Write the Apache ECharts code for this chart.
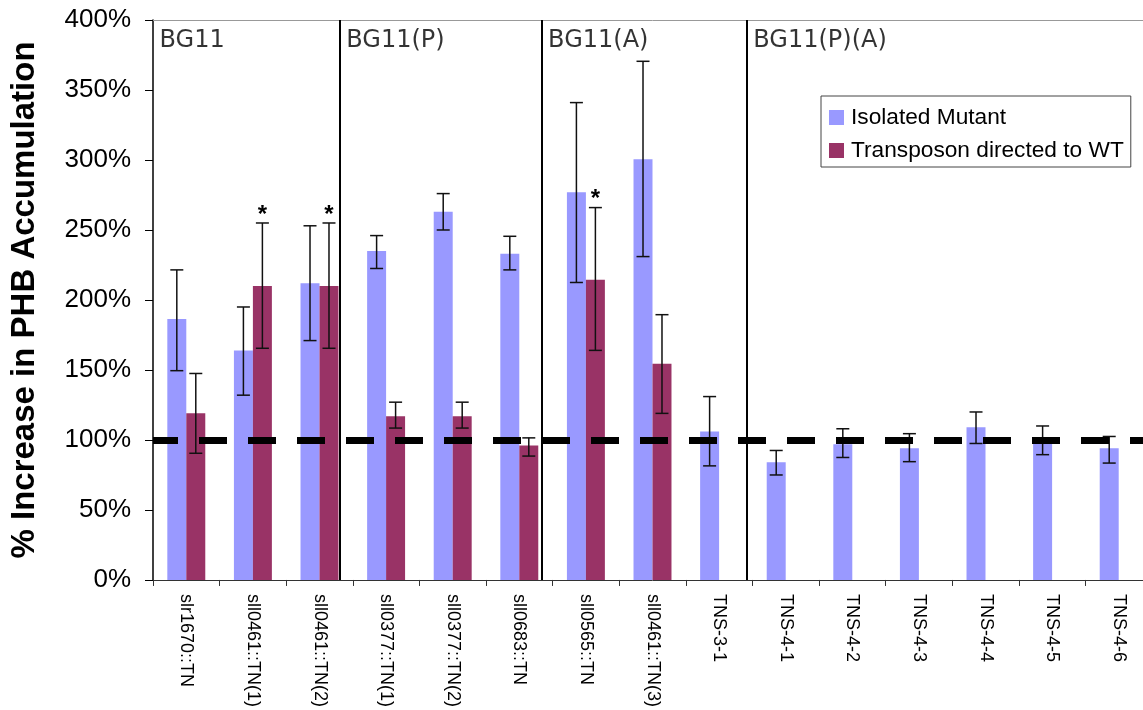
<!DOCTYPE html>
<html><head><meta charset="utf-8">
<script src="https://cdn.jsdelivr.net/npm/echarts@6/dist/echarts.min.js"></script>
<style>html,body{margin:0;padding:0;background:#fff;overflow:hidden}#c{width:1165px;height:710px}</style>
</head><body><div id="c"></div>
<script>
const categories = ['slr1670::TN','sll0461::TN(1)','sll0461::TN(2)','sll0377::TN(1)','sll0377::TN(2)','sll0683::TN','sll0565::TN','sll0461::TN(3)','TNS-3-1','TNS-4-1','TNS-4-2','TNS-4-3','TNS-4-4','TNS-4-5','TNS-4-6'];
const isolated     = [186.5, 164, 212, 235, 263, 233, 277, 300.5, 106, 84, 97, 94, 109, 100, 94];
const isolatedHigh = [221.5, 195, 253, 246, 276, 245.5, 341, 370.5, 131, 92.5, 108, 104.5, 120, 110, 102.5];
const isolatedLow  = [149.5, 132, 171, 222.5, 250, 221.5, 212.5, 231, 81.5, 75, 87.5, 84.5, 97.5, 89.5, 83.5];
const transposon     = [119, 210, 210, 117, 117, 96, 214.5, 154.5, null, null, null, null, null, null, null];
const transposonHigh = [147.5, 255, 255, 127, 127, 101.5, 266, 189.5, null, null, null, null, null, null, null];
const transposonLow  = [90.5, 165.5, 165.5, 108.5, 108.5, 88.5, 164, 119, null, null, null, null, null, null, null];
const significant    = [0, 1, 1, 0, 0, 0, 1, 0, 0, 0, 0, 0, 0, 0, 0];
const groupNames  = ['BG11', 'BG11(P)', 'BG11(A)', 'BG11(P)(A)'];
const groupStarts = [0, 2.805, 5.835, 8.916];
const yTicks = [0, 50, 100, 150, 200, 250, 300, 350, 400];
const baseline = 100;

const FONT = 'Liberation Sans, Arial, sans-serif';
const GAP = 0.43;

function errRenderer(side) {
  return function (params, api) {
    const i = api.value(0), hi = api.value(1), lo = api.value(2), star = api.value(3);
    const catW = api.size([1, 0])[0];
    const bw = catW * (1 - GAP) / 2;
    const pH = api.coord([i, hi]);
    const pL = api.coord([i, lo]);
    const x = pH[0] + side * bw / 2;
    const cap = 6.5;
    const st = { stroke: '#111', lineWidth: 1.5 };
    const children = [
      { type: 'line', shape: { x1: x, y1: pH[1], x2: x, y2: pL[1] }, style: st },
      { type: 'line', shape: { x1: x - cap, y1: pH[1], x2: x + cap, y2: pH[1] }, style: st },
      { type: 'line', shape: { x1: x - cap, y1: pL[1], x2: x + cap, y2: pL[1] }, style: st }
    ];
    if (star) {
      children.push({ type: 'text', style: { text: '*', x: x, y: pH[1] - 8, fill: '#000', font: 'bold 24px ' + FONT, align: 'center', verticalAlign: 'middle' } });
    }
    return { type: 'group', children: children };
  };
}

const isoErr = isolated.map((v, i) => [i, isolatedHigh[i], isolatedLow[i], 0]);
const trErr = [];
transposon.forEach((v, i) => { if (v != null) trErr.push([i, transposonHigh[i], transposonLow[i], significant[i]]); });

const chart = echarts.init(document.getElementById('c'), null, { renderer: 'canvas' });
chart.setOption({
  animation: false,
  backgroundColor: '#fff',
  textStyle: { fontFamily: FONT },
  grid: { left: 152, top: 20, width: 1000, height: 564, containLabel: false },
  legend: {
    orient: 'vertical', left: 821, top: 96,
    padding: [10, 7, 5, 8], itemGap: 10, itemWidth: 15, itemHeight: 15,
    borderColor: '#444', borderWidth: 1,
    icon: 'rect',
    textStyle: { fontSize: 22.7, color: '#000', fontFamily: FONT, padding: [0, 0, 0, 2] },
    data: ['Isolated Mutant', 'Transposon directed to WT']
  },
  xAxis: [{
    type: 'category', data: categories, position: 'bottom',
    axisLine: { lineStyle: { color: '#333', width: 1 } },
    axisTick: { show: true, length: 6, alignWithLabel: false, lineStyle: { color: '#333' } },
    axisLabel: { rotate: -90, fontSize: 18, color: '#000', margin: 14, interval: 0, fontFamily: FONT }
  }, {
    type: 'value', min: 0, max: categories.length, position: 'top',
    axisLine: { show: true, lineStyle: { color: '#999', width: 1 } },
    axisTick: { show: false }, axisLabel: { show: false }, splitLine: { show: false }
  }],
  yAxis: {
    type: 'value', min: yTicks[0], max: yTicks[yTicks.length - 1], interval: 50,
    name: '% Increase in PHB Accumulation', nameLocation: 'middle', nameGap: 112,
    nameTextStyle: { fontSize: 33, fontWeight: 'bold', color: '#000', fontFamily: FONT },
    axisLine: { show: true, lineStyle: { color: '#000', width: 1.5 } },
    axisTick: { show: true, length: 8, inside: false, lineStyle: { color: '#000' } },
    axisLabel: { formatter: '{value}%', fontSize: 26, color: '#000', margin: 22, fontFamily: FONT },
    splitLine: { show: false }
  },
  series: [
    {
      name: 'Isolated Mutant', type: 'bar', data: isolated,
      barGap: '0%', barCategoryGap: (GAP * 100) + '%',
      itemStyle: { color: '#9999FF' }
    },
    {
      name: 'Transposon directed to WT', type: 'bar', data: transposon,
      itemStyle: { color: '#993366' }
    },
    {
      type: 'custom', renderItem: errRenderer(-1), data: isoErr, z: 4, clip: false,
      encode: { x: 0, y: [1, 2] }, tooltip: { show: false }
    },
    {
      type: 'custom', renderItem: errRenderer(1), data: trErr, z: 4, clip: false,
      encode: { x: 0, y: [1, 2] },
      markLine: {
        silent: true, symbol: 'none', z: 10,
        lineStyle: { color: '#000', width: 7, type: [28, 21], dashOffset: 3, cap: 'butt' },
        label: { show: false },
        data: [{ yAxis: baseline }]
      }
    },
    {
      type: 'scatter', xAxisIndex: 1, yAxisIndex: 0, symbolSize: 1, clip: false,
      itemStyle: { color: 'rgba(0,0,0,0)' },
      data: groupNames.map((n, k) => ({ name: n, value: [groupStarts[k], yTicks[yTicks.length - 1]] })),
      label: {
        show: true, formatter: '{b}', position: [7, 9], align: 'left', verticalAlign: 'top',
        fontSize: 24, color: '#000', fontFamily: 'DejaVu Sans, sans-serif'
      },
      markLine: {
        silent: true, symbol: 'none',
        lineStyle: { color: '#000', width: 2, type: 'solid' },
        label: { show: false },
        data: groupStarts.slice(1).map(v => ({ xAxis: v }))
      }
    }
  ]
});
</script>
</body></html>
